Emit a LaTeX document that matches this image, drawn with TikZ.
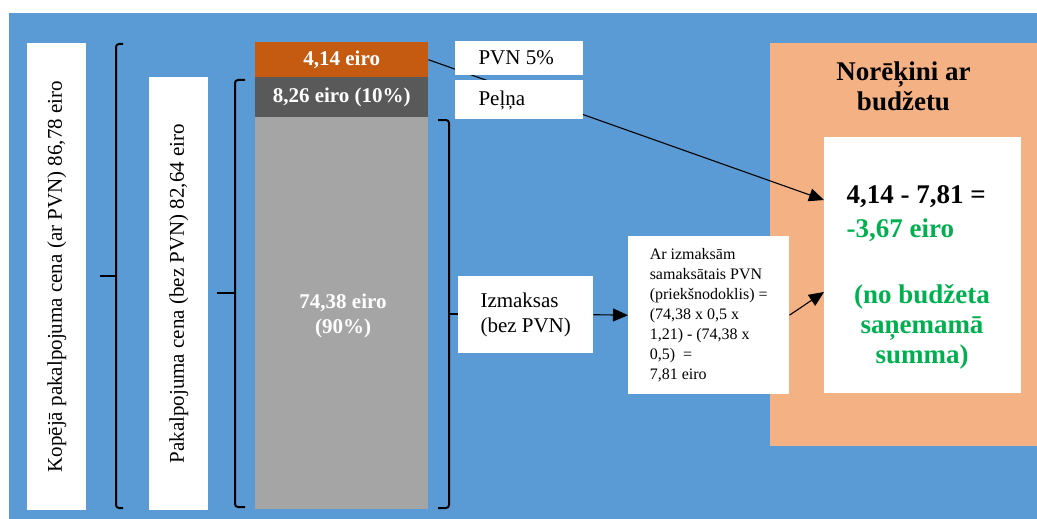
\documentclass[tikz,border=0pt]{standalone}
\usepackage{fontspec}
\setmainfont{Liberation Serif}
\usetikzlibrary{arrows.meta,calc}
\definecolor{bgblue}{HTML}{5B9BD5}
\definecolor{barorange}{HTML}{C55A11}
\definecolor{bardark}{HTML}{595959}
\definecolor{barlight}{HTML}{A5A5A5}
\definecolor{salmon}{HTML}{F4B183}
\definecolor{resgreen}{HTML}{00B050}
\tikzset{
  wbox/.style={fill=white, draw=none, inner sep=0pt},
  bar/.style={draw=none, inner sep=0pt, text=white, font=\fontsize{21}{25}\selectfont\bfseries, align=center},
  brk/.style={line width=2pt, rounded corners=3pt},
  arr/.style={line width=1.1pt, -{Triangle[length=15pt,width=13pt]}},
  txt21/.style={font=\fontsize{21}{25}\selectfont},
  big/.style={font=\fontsize{27}{30}\selectfont\bfseries},
}
\begin{document}
\begin{tikzpicture}[x=1pt,y=-1pt]
\useasboundingbox (0,0) rectangle (1037,519);
\fill[white] (0,0) rectangle (1037,519);
\fill[bgblue] (9,13) rectangle (1037,519);
\fill[salmon] (770,43) rectangle (1037,446);
% left boxes
\node[wbox, minimum width=59pt, minimum height=467pt, anchor=north west] (tot) at (27,43) {};
\node[txt21, rotate=90] (totl) at (tot.center) {Kopējā pakalpojuma cena (ar PVN) 86,78 eiro};
\node[wbox, minimum width=59pt, minimum height=433pt, anchor=north west] (net) at (149,77) {};
\node[txt21, rotate=90] (netl) at (net.center) {Pakalpojuma cena (bez PVN) 82,64 eiro};
% bars
\node[bar, fill=barorange, minimum width=173pt, minimum height=35pt, anchor=north west] (b1) at (255,42) {4,14 eiro};
\node[bar, fill=bardark, minimum width=173pt, minimum height=40pt, anchor=north west] (b2) at (255,77) {8,26 eiro (10\%)};
\node[bar, fill=barlight, minimum width=173pt, minimum height=392pt, anchor=north west] (b3) at (255,117) {};
\node[bar, text=white] (b3l) at (343,316) {74,38 eiro\\(90\%)};
% result area
\node[wbox, minimum width=197pt, minimum height=256pt, anchor=north west] (res) at (824,137) {};
\coordinate (t1) at ($(res.north west)+(0,63)$);
\coordinate (t2) at ($(res.north west)+(0,155)$);
% long arrow behind boxes
\draw[arr] (b1.east) -- (t1);
% labels
\node[wbox, minimum width=128pt, minimum height=34pt, anchor=north west] (pvn) at (455,41) {};
\node[txt21, anchor=west] (pvnl) at (475,58) {PVN 5\%};
\node[wbox, minimum width=128pt, minimum height=39pt, anchor=north west] (pel) at (455,80) {};
\node[txt21, anchor=west] (pell) at (475,100) {Peļņa};
\node[wbox, txt21, minimum width=135pt, minimum height=77pt, anchor=north west, align=left] (izm) at (458,276) {Izmaksas\\(bez PVN)};
\node[wbox, minimum width=161pt, minimum height=158pt, anchor=north west, align=left, font=\fontsize{16}{20}\selectfont] (frm) at (628,236)
  {Ar izmaksām\\samaksātais PVN\\(priekšnodoklis) =\\(74,38 x 0,5 x\\1,21) - (74,38 x\\0,5)\ \ =\\7,81 eiro};
% title and result text
\node[big, align=center] (ttl) at (903.5,86) {Norēķini ar\\budžetu};
\node[big, anchor=west] (eq) at (843,197) {4,14 - 7,81 =};
\node[big, anchor=west, text=resgreen] (eqr) at (843,230) {-3,67 eiro};
\node[big, align=center, text=resgreen] (note) at (922,327) {(no budžeta\\saņemamā\\summa)};
% brackets
\draw[brk] (123,44) -- (116,44) -- (116,508) -- (123,508);
\draw[brk] (100,276) -- (116,276);
\draw[brk] (245,80) -- (235,80) -- (235,507) -- (245,507);
\draw[brk] (217,293) -- (235,293);
\draw[brk] (438,120) -- (449,120) -- (449,508) -- (438,508);
\draw[line width=2pt] (449,314) -- (izm.west |- 0,314);
% arrows
\draw[arr] (izm.east) -- (frm.west);
\draw[arr] (frm.east) -- (t2);
\end{tikzpicture}
\end{document}
